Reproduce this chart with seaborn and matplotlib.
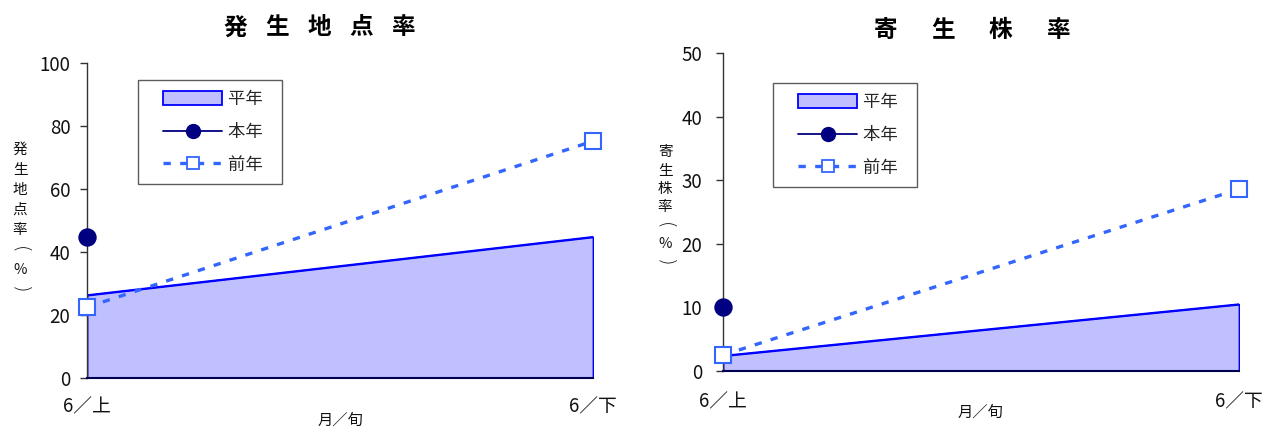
import numpy as np
import pandas as pd
import matplotlib
matplotlib.use("Agg")
import matplotlib.pyplot as plt
import seaborn as sns
from matplotlib.patches import Patch
from matplotlib.lines import Line2D
from matplotlib.legend_handler import HandlerPatch, HandlerLine2D

# ---- data ----
categories = ["6／上", "6／下"]
legend_labels = ["平年", "本年", "前年"]

# 発生地点率 (%)
occ_avg = [26.3, 44.8]     # 平年
occ_this = [44.8, None]    # 本年
occ_prev = [22.5, 75.2]    # 前年

# 寄生株率 (%)
par_avg = [2.4, 10.5]
par_this = [10.0, None]
par_prev = [2.5, 28.6]

titles = ["発生地点率", "寄生株率"]
ylabels = ["発生地点率(%)", "寄生株率(%)"]
xlabel = "月／旬"

sns.set_theme(style="white")
plt.rcParams["font.family"] = ["Noto Sans CJK JP", "DejaVu Sans"]

FILL = "#C0C0FF"
EDGE = "#0000FF"
NAVY = "#000080"
PREV = "#3366FF"
DASH = (0, (2.2, 2.8))

fig = plt.figure(figsize=(12.66, 4.28), dpi=100)

W, H = 1266, 428
panels = [
    dict(box=(87, 593, 63, 378), ymax=100, yticks=[0, 20, 40, 60, 80, 100],
         avg=occ_avg, this=occ_this, prev=occ_prev, title=titles[0],
         title_x0=235, title_pitch=42, title_y=27.5,
         ylab=ylabels[0], ylab_x=20, ylab_y0=150, ylab_pitch=20,
         xlab_xy=(340, 420), leg=(138, 80), ypad=12, xpad=13),
    dict(box=(723, 1239, 53, 371), ymax=50, yticks=[0, 10, 20, 30, 40, 50],
         avg=par_avg, this=par_this, prev=par_prev, title=titles[1],
         title_x0=886, title_pitch=57.3, title_y=30,
         ylab=ylabels[1], ylab_x=665, ylab_y0=152, ylab_pitch=18.5,
         xlab_xy=(980, 412), leg=(773, 83), ypad=15, xpad=15),
]

for p in panels:
    l, r, t, b = p["box"]
    ax = fig.add_axes([l / W, 1 - b / H, (r - l) / W, (b - t) / H])
    x = np.arange(len(categories))
    df = pd.DataFrame({"x": x, "avg": p["avg"],
                       "this": [np.nan if v is None else v for v in p["this"]],
                       "prev": p["prev"]})

    ax.fill_between(df["x"], 0, df["avg"], facecolor=FILL, edgecolor=EDGE,
                    linewidth=1.3, zorder=1)
    sns.lineplot(data=df, x="x", y="avg", ax=ax, color=EDGE, lw=1.3,
                 zorder=2, legend=False)
    sns.lineplot(data=df, x="x", y="prev", ax=ax, color=PREV, lw=2.4,
                 linestyle=DASH, marker="s", markersize=11,
                 markerfacecolor="white", markeredgecolor=PREV,
                 markeredgewidth=1.5, clip_on=False, zorder=4, legend=False)
    sns.scatterplot(data=df.dropna(subset=["this"]), x="x", y="this", ax=ax,
                    color=NAVY, s=150, edgecolor=NAVY, clip_on=False,
                    zorder=5, legend=False)

    ax.set_xlim(0, 1)
    ax.set_ylim(0, p["ymax"])
    ax.set_yticks(p["yticks"])
    ax.set_xticks(x)
    ax.set_xticklabels(categories)
    ax.tick_params(axis="y", direction="out", length=5, width=1, color="#333333",
                   labelsize=13.5, pad=p["ypad"] - 5, left=True,
                   labelcolor="#111111")
    ax.tick_params(axis="x", length=0, labelsize=13.5, pad=p["xpad"],
                   labelcolor="#111111")
    for s in ["top", "right"]:
        ax.spines[s].set_visible(False)
    ax.spines["left"].set_color("#333333")
    ax.spines["bottom"].set_color("#000050")
    ax.spines["left"].set_linewidth(1.0)
    ax.spines["bottom"].set_linewidth(1.5)
    ax.set_xlabel("")
    ax.set_ylabel("")

    handles = [
        Patch(facecolor=FILL, edgecolor=EDGE, linewidth=1.3),
        Line2D([], [], color=NAVY, lw=1.3, marker="o", markersize=10,
               markerfacecolor=NAVY),
        Line2D([], [], color=PREV, lw=2.4, linestyle=DASH, marker="s",
               markersize=9, markerfacecolor="white", markeredgecolor=PREV,
               markeredgewidth=1.3),
    ]
    lx, ly = p["leg"]
    leg = ax.legend(handles, [s + "\u2002" for s in legend_labels],
                    loc="upper left",
                    bbox_to_anchor=((lx - l) / (r - l), (b - ly) / (b - t)),
                    borderaxespad=0, frameon=True, fancybox=False,
                    handlelength=4.25, handleheight=0.85, numpoints=1,
                    fontsize=12.5, labelspacing=0.85, borderpad=0.6,
                    handletextpad=0.35,
                    handler_map={Patch: HandlerPatch(xpad=0.85),
                                 Line2D: HandlerLine2D(xpad=0.85)})
    leg.get_frame().set_edgecolor("#333333")
    leg.get_frame().set_linewidth(1.0)

    for i, ch in enumerate(p["title"]):
        fig.text((p["title_x0"] + i * p["title_pitch"]) / W, 1 - p["title_y"] / H,
                 ch, ha="center", va="center", fontsize=17, fontweight="bold",
                 color="black")
    for i, ch in enumerate(p["ylab"]):
        is_paren = ch in "()"
        t_ = fig.text(p["ylab_x"] / W,
                      1 - (p["ylab_y0"] + i * p["ylab_pitch"]) / H,
                      ch, ha="center", va="center",
                      fontsize=14 if is_paren else 10.5, color="#111111",
                      family=["DejaVu Sans"] if is_paren else None)
        if is_paren:
            t_.set_rotation(270)
            t_.set_fontweight("light")
    xx, xy = p["xlab_xy"]
    fig.text(xx / W, 1 - xy / H, xlabel, ha="center", va="center", fontsize=11,
             color="#111111")

fig.savefig("out.png", dpi=100)
